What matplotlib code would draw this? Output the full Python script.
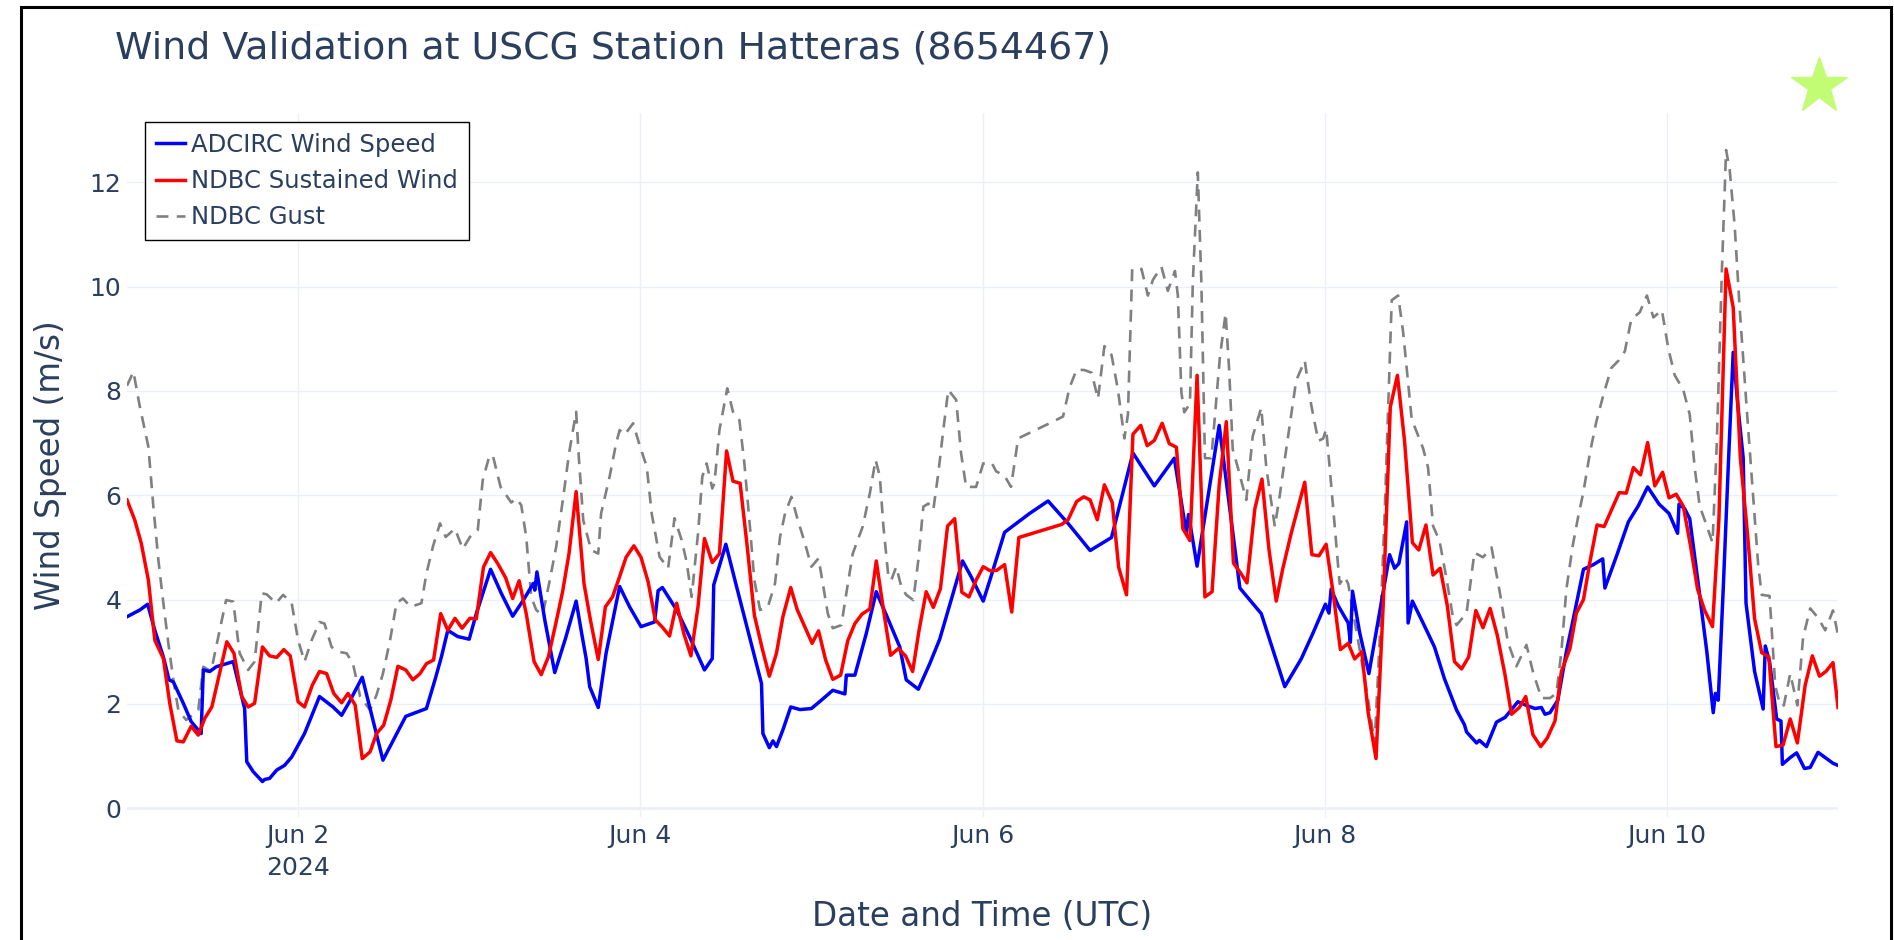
import numpy as np
import pandas as pd
import matplotlib
matplotlib.use('Agg')
import matplotlib.pyplot as plt
from matplotlib.patches import Rectangle
from matplotlib.lines import Line2D

# hours since 2024-06-01 00:00 UTC, speeds in m/s
start = pd.Timestamp('2024-06-01 00:00')

adcirc_hours = [0.0, 1.8, 2.9, 3.9, 5.1, 5.9, 6.5, 7.9, 9.0, 10.4, 10.7, 11.6, 12.5, 14.9, 16.5, 16.8, 17.7,
                19.0, 19.3, 20.0, 21.0, 22.1, 23.1, 24.9, 27.0, 28.9, 30.1, 31.2, 33.0, 35.9, 39.1, 42.0,
                43.2, 44.1, 45.0, 46.4, 48.0, 49.0, 51.0, 52.5, 54.1, 55.6, 57.0, 57.2, 57.5, 58.6, 60.0,
                61.5, 63.0, 63.7, 64.4, 64.9, 66.1, 67.2, 69.1, 70.5, 72.1, 74.0, 74.5, 75.1, 77.1, 78.9,
                81.0, 82.1, 82.3, 84.0, 85.5, 87.3, 89.0, 89.2, 90.1, 90.6, 91.1, 92.0, 93.1, 94.4, 96.0,
                97.4, 99.0, 100.7, 100.9, 102.1, 103.7, 105.1, 106.8, 108.4, 109.3, 111.0, 112.6, 114.0,
                115.6, 117.2, 118.4, 120.1, 121.1, 123.1, 126.6, 129.2, 132.0, 135.1, 138.1, 141.1, 144.1,
                146.9, 148.6, 148.9, 150.1, 153.2, 156.1, 159.1, 162.4, 164.7, 166.4, 168.1, 168.6, 168.9,
                169.9, 171.3, 171.6, 171.9, 172.9, 174.2, 175.8, 177.1, 177.8, 178.4, 179.5, 179.7, 180.3,
                181.8, 183.4, 184.8, 186.5, 187.6, 187.9, 189.3, 189.7, 190.7, 192.1, 193.3, 195.1, 196.3,
                197.5, 198.4, 198.9, 199.6, 200.7, 201.9, 202.6, 204.3, 205.7, 207.0, 207.3, 209.0, 210.6,
                212.0, 213.3, 214.9, 216.3, 217.5, 217.7, 218.5, 219.2, 220.4, 221.6, 222.5, 222.8, 223.2,
                223.9, 224.6, 225.3, 226.0, 226.7, 227.1, 228.3, 229.5, 229.8, 230.4, 231.4, 232.0, 232.2,
                233.3, 234.2, 235.3, 236.1, 237.2, 238.2, 239.3, 240.0]
adcirc_speed = [3.67, 3.80, 3.91, 3.41, 2.90, 2.46, 2.42, 2.01, 1.66, 1.43, 2.65, 2.62, 2.71, 2.81, 1.91, 0.89,
                0.70, 0.51, 0.55, 0.57, 0.73, 0.82, 0.98, 1.43, 2.14, 1.94, 1.78, 2.04, 2.51, 0.92, 1.76,
                1.91, 2.46, 2.90, 3.41, 3.29, 3.24, 3.73, 4.58, 4.12, 3.68, 3.99, 4.31, 4.18, 4.53, 3.61,
                2.60, 3.25, 3.97, 3.41, 2.87, 2.33, 1.93, 2.97, 4.25, 3.86, 3.48, 3.57, 4.17, 4.23, 3.80,
                3.29, 2.65, 2.87, 4.28, 5.06, 4.25, 3.29, 2.39, 1.43, 1.16, 1.29, 1.18, 1.50, 1.94, 1.89,
                1.91, 2.07, 2.26, 2.19, 2.55, 2.55, 3.35, 4.15, 3.61, 3.09, 2.46, 2.28, 2.77, 3.24, 3.99,
                4.74, 4.44, 3.97, 4.40, 5.29, 5.65, 5.89, 5.46, 4.94, 5.19, 6.81, 6.18, 6.71, 5.27, 5.63,
                4.64, 7.34, 4.22, 3.73, 2.33, 2.86, 3.37, 3.91, 3.74, 4.20, 3.88, 3.55, 3.18, 4.16, 3.37,
                2.58, 3.83, 4.86, 4.60, 4.69, 5.49, 3.55, 3.97, 3.55, 3.09, 2.48, 1.88, 1.60, 1.46, 1.25,
                1.30, 1.18, 1.65, 1.74, 2.04, 1.97, 1.91, 1.93, 1.80, 1.83, 2.07, 3.00, 3.45, 4.58, 4.67,
                4.78, 4.22, 4.86, 5.49, 5.80, 6.16, 5.83, 5.65, 5.27, 5.83, 5.74, 5.55, 4.30, 3.00, 1.83,
                2.20, 2.07, 4.20, 6.53, 8.74, 7.65, 6.72, 3.93, 2.62, 1.90, 3.11, 2.81, 1.71, 1.67, 0.84,
                0.97, 1.06, 0.76, 0.78, 1.07, 0.97, 0.86, 0.82]

ndbc_hours = [0.0, 1.1, 2.0, 3.0, 3.9, 5.1, 6.0, 7.0, 7.9, 9.0, 10.0, 10.9, 11.9, 14.0, 15.0, 16.1, 17.0, 17.9,
              19.0, 20.0, 21.0, 22.0, 22.9, 24.0, 24.9, 26.0, 27.0, 28.0, 29.0, 30.1, 31.0, 32.0, 33.0, 34.1,
              35.0, 36.0, 37.0, 38.0, 39.1, 40.1, 41.1, 42.0, 43.0, 44.0, 45.0, 46.0, 47.0, 48.1, 49.0, 50.0,
              51.0, 52.0, 53.1, 54.1, 55.0, 56.0, 57.1, 58.1, 59.1, 60.1, 61.1, 62.0, 63.0, 64.1, 65.0, 66.1,
              67.1, 68.1, 69.1, 70.0, 71.1, 72.1, 73.1, 74.1, 75.1, 76.1, 77.1, 78.1, 79.1, 80.1, 81.0, 82.1,
              83.1, 84.1, 85.0, 86.0, 87.0, 88.0, 89.1, 90.1, 91.1, 92.0, 93.1, 94.0, 95.1, 96.1, 97.0, 98.0,
              99.0, 100.1, 101.1, 102.1, 103.1, 104.2, 105.1, 106.1, 107.1, 108.2, 109.2, 110.2, 111.1,
              112.1, 113.1, 114.1, 115.1, 116.1, 117.1, 118.1, 119.1, 120.1, 121.1, 122.0, 123.1, 124.1,
              125.1, 131.1, 132.0, 133.2, 134.2, 135.1, 136.1, 137.1, 138.2, 139.1, 140.2, 141.1, 142.2,
              143.1, 144.1, 145.2, 146.2, 147.2, 148.1, 149.1, 150.1, 151.2, 152.2, 153.2, 154.2, 155.2,
              156.2, 157.1, 158.2, 159.2, 160.2, 161.2, 162.1, 163.3, 164.3, 165.2, 166.2, 167.2, 168.2,
              169.2, 170.2, 171.3, 172.2, 173.2, 174.1, 175.2, 176.2, 177.2, 178.2, 179.2, 180.3, 181.2,
              182.2, 183.2, 184.2, 185.2, 186.2, 187.2, 188.2, 189.2, 190.2, 191.2, 192.2, 193.3, 194.2,
              195.3, 196.2, 197.2, 198.3, 199.2, 200.3, 201.2, 202.4, 203.3, 204.3, 205.2, 206.2, 207.2,
              208.2, 209.3, 210.3, 211.3, 212.3, 213.3, 214.3, 215.4, 216.3, 217.3, 218.3, 219.3, 220.3,
              221.3, 222.4, 223.3, 224.3, 225.3, 226.3, 227.3, 228.3, 229.3, 230.3, 231.3, 232.3, 233.3,
              234.3, 235.4, 236.4, 237.4, 238.3, 239.3, 240.0]
ndbc_wind = [5.91, 5.52, 5.08, 4.37, 3.22, 2.87, 2.01, 1.29, 1.27, 1.57, 1.40, 1.72, 1.94, 3.19, 2.97, 2.14, 1.94,
             2.01, 3.09, 2.92, 2.89, 3.04, 2.92, 2.04, 1.94, 2.36, 2.62, 2.58, 2.20, 2.02, 2.20, 1.98, 0.95,
             1.08, 1.43, 1.59, 2.07, 2.72, 2.65, 2.46, 2.58, 2.77, 2.84, 3.73, 3.41, 3.64, 3.45, 3.64, 3.63,
             4.62, 4.90, 4.69, 4.42, 4.02, 4.36, 3.73, 2.81, 2.56, 2.90, 3.51, 4.15, 4.88, 6.07, 4.31, 3.61,
             2.85, 3.86, 4.05, 4.44, 4.81, 5.03, 4.81, 4.34, 3.61, 3.47, 3.30, 3.93, 3.35, 2.92, 3.87, 5.17,
             4.71, 4.88, 6.85, 6.27, 6.23, 5.01, 3.70, 3.06, 2.53, 2.97, 3.67, 4.23, 3.81, 3.47, 3.16, 3.40,
             2.84, 2.47, 2.55, 3.21, 3.54, 3.72, 3.82, 4.74, 3.81, 2.93, 3.06, 2.92, 2.62, 3.41, 4.15, 3.85,
             4.21, 5.41, 5.55, 4.14, 4.05, 4.37, 4.63, 4.55, 4.56, 4.67, 3.76, 5.19, 5.44, 5.53, 5.88, 5.97,
             5.91, 5.53, 6.20, 5.86, 4.62, 4.09, 7.17, 7.34, 6.95, 7.05, 7.38, 6.99, 6.92, 5.36, 5.13, 8.30,
             4.05, 4.15, 6.20, 7.41, 4.70, 4.51, 4.32, 5.74, 6.31, 4.94, 3.97, 4.58, 5.27, 5.79, 6.25, 4.86,
             4.84, 5.06, 4.11, 3.04, 3.16, 2.86, 3.00, 1.83, 0.95, 3.88, 7.69, 8.30, 7.04, 5.09, 4.95, 5.43,
             4.47, 4.60, 3.88, 2.81, 2.67, 2.90, 3.79, 3.46, 3.83, 3.32, 2.55, 1.80, 1.93, 2.14, 1.41, 1.18,
             1.34, 1.67, 2.62, 3.06, 3.74, 4.00, 4.72, 5.43, 5.40, 5.71, 6.05, 6.04, 6.53, 6.39, 7.01, 6.18,
             6.44, 5.95, 6.02, 5.79, 5.04, 4.20, 3.79, 3.48, 5.55, 10.34, 9.60, 6.72, 5.27, 3.63, 2.98, 2.90,
             1.18, 1.21, 1.71, 1.25, 2.36, 2.92, 2.53, 2.62, 2.79, 1.93]

gust_hours = [0.0, 0.9, 1.8, 3.0, 3.7, 4.4, 5.1, 5.8, 6.5, 7.2, 8.3, 10.0, 10.7, 11.8, 12.5, 13.9, 14.9, 15.8,
              17.0, 17.9, 18.9, 19.6, 20.9, 21.9, 23.1, 24.0, 24.9, 25.9, 27.0, 27.7, 28.7, 29.6, 30.8, 31.7,
              32.7, 34.1, 35.0, 35.9, 36.9, 37.8, 38.7, 39.8, 41.3, 42.0, 42.9, 43.9, 44.7, 46.0, 47.1, 48.1,
              49.2, 49.9, 50.8, 51.3, 52.4, 53.9, 54.6, 55.3, 56.0, 56.7, 57.4, 58.3, 59.3, 60.2, 61.2, 62.0,
              63.0, 63.4, 64.0, 65.1, 66.1, 66.5, 67.7, 68.6, 69.1, 69.8, 71.0, 71.9, 72.9, 73.6, 74.7, 75.9,
              76.8, 77.8, 78.5, 79.2, 80.1, 80.7, 81.3, 82.1, 82.4, 83.1, 84.2, 85.0, 85.9, 86.6, 87.3, 88.0,
              88.8, 89.9, 90.9, 91.6, 92.3, 93.2, 94.1, 95.1, 96.0, 97.0, 97.6, 98.3, 99.0, 100.2, 100.9,
              101.8, 103.2, 104.2, 105.0, 105.6, 106.1, 106.8, 107.2, 107.9, 108.6, 109.3, 110.3, 111.0,
              111.7, 112.4, 113.1, 113.8, 114.5, 115.2, 116.3, 117.0, 117.7, 119.1, 120.1, 121.3, 121.9,
              123.1, 124.0, 125.0, 129.4, 131.3, 132.2, 133.2, 134.3, 135.3, 136.2, 137.1, 138.1, 139.0,
              139.9, 140.4, 141.0, 142.3, 143.2, 143.9, 145.1, 146.0, 147.0, 147.4, 147.9, 148.3, 149.1,
              149.5, 150.2, 150.7, 151.2, 152.1, 153.3, 154.1, 154.6, 155.1, 155.8, 157.0, 157.9, 159.1,
              159.8, 161.0, 161.7, 162.6, 164.0, 165.2, 166.1, 167.1, 167.8, 168.2, 168.7, 169.4, 170.1,
              170.8, 171.3, 172.0, 173.2, 174.1, 175.0, 175.7, 176.4, 176.9, 177.4, 178.3, 179.0, 180.2,
              181.8, 182.5, 183.2, 184.1, 185.1, 186.0, 186.5, 187.9, 189.0, 190.2, 191.4, 192.6, 193.7,
              194.9, 196.3, 197.2, 198.4, 199.6, 200.5, 201.2, 201.9, 202.8, 203.5, 204.3, 205.2, 206.1,
              207.1, 208.2, 209.2, 210.1, 211.0, 212.2, 213.2, 214.1, 215.3, 216.2, 217.1, 218.3, 219.2,
              219.9, 220.6, 221.6, 222.4, 223.0, 223.7, 224.3, 224.8, 225.5, 226.2, 227.2, 228.1, 228.8,
              229.3, 230.4, 231.2, 231.9, 232.4, 233.3, 234.3, 235.1, 236.1, 237.2, 238.2, 239.3, 240.0]
ndbc_gust = [8.10, 8.37, 7.70, 6.93, 5.78, 4.76, 3.93, 3.16, 2.46, 1.88, 1.69, 1.88, 2.71, 2.62, 3.09, 3.99, 3.96,
             2.97, 2.65, 2.81, 4.12, 4.10, 3.93, 4.09, 3.93, 3.22, 2.81, 3.22, 3.57, 3.54, 3.09, 3.00, 2.97,
             2.77, 2.14, 1.88, 2.17, 2.58, 3.22, 3.93, 4.02, 3.86, 3.93, 4.50, 5.01, 5.46, 5.20, 5.36, 4.97,
             5.20, 5.33, 6.29, 6.74, 6.77, 6.16, 5.86, 5.94, 5.81, 5.20, 4.05, 3.80, 3.70, 4.37, 5.01, 5.97,
             6.80, 7.60, 6.68, 5.52, 4.95, 4.88, 5.65, 6.36, 6.99, 7.25, 7.16, 7.38, 6.96, 6.55, 5.65, 4.82,
             4.60, 5.56, 5.14, 4.72, 4.05, 5.27, 6.36, 6.61, 6.13, 6.23, 7.25, 8.05, 7.60, 7.44, 6.61, 5.52,
             4.37, 3.80, 3.86, 4.31, 5.20, 5.65, 5.97, 5.52, 5.08, 4.63, 4.79, 4.31, 3.73, 3.45, 3.51, 4.12,
             4.88, 5.40, 6.04, 6.68, 6.36, 5.40, 4.44, 4.37, 4.63, 4.25, 4.09, 3.99, 4.76, 5.78, 5.84, 5.72,
             6.42, 7.25, 8.02, 7.83, 6.80, 6.16, 6.16, 6.61, 6.62, 6.46, 6.37, 6.16, 7.09, 7.38, 7.51, 8.06,
             8.41, 8.40, 8.35, 7.85, 8.86, 8.69, 8.02, 7.09, 7.55, 10.34, 10.34, 9.83, 10.13, 10.38, 9.92,
             10.30, 9.83, 7.97, 7.59, 7.76, 10.08, 12.19, 10.08, 6.71, 6.71, 8.65, 9.49, 8.40, 6.88, 6.54,
             5.91, 7.13, 7.68, 6.54, 5.40, 6.00, 6.88, 8.20, 8.58, 7.74, 7.04, 7.09, 7.27, 6.53, 5.41, 4.30,
             4.44, 4.30, 3.74, 2.81, 2.07, 1.23, 3.18, 5.60, 7.65, 9.74, 9.83, 9.13, 7.46, 6.90, 6.53, 5.41,
             5.13, 4.39, 3.65, 3.51, 3.74, 4.90, 4.81, 5.00, 4.11, 3.18, 2.72, 3.13, 2.62, 2.11, 2.11, 2.20,
             3.00, 4.20, 5.04, 5.55, 6.07, 6.81, 7.41, 7.93, 8.44, 8.58, 8.76, 9.37, 9.51, 9.83, 9.41, 9.55,
             8.81, 8.30, 8.02, 7.55, 6.53, 5.79, 5.41, 5.09, 7.00, 10.25, 12.62, 12.25, 11.18, 9.60, 7.65,
             5.97, 4.67, 4.09, 4.07, 2.34, 1.97, 1.97, 2.58, 1.97, 3.27, 3.83, 3.65, 3.41, 3.79, 3.32]

tick_days = ['2024-06-02', '2024-06-04', '2024-06-06', '2024-06-08', '2024-06-10']
tick_labels = ['Jun 2\n2024', 'Jun 4', 'Jun 6', 'Jun 8', 'Jun 10']
y_ticks = [0, 2, 4, 6, 8, 10, 12]

txt = '#2a3f5f'
grid_c = '#ebf0f8'

def to_time(hours):
    return (start + pd.to_timedelta(np.array(hours), unit='h')).to_numpy()

plt.rcParams['font.family'] = ['DejaVu Sans']
plt.rcParams['lines.scale_dashes'] = False

W, H = 1894, 940
fig = plt.figure(figsize=(W / 100, H / 100), dpi=100)
ax = fig.add_axes([127 / W, 1 - 817 / H, (1838 - 127) / W, (817 - 113) / H])

ax.plot(to_time(adcirc_hours), adcirc_speed, color='#0000ff', lw=2.5, label='ADCIRC Wind Speed',
        solid_joinstyle='round', zorder=3)
ax.plot(to_time(ndbc_hours), ndbc_wind, color='#ff0000', lw=2.5, label='NDBC Sustained Wind',
        solid_joinstyle='round', zorder=4)
ax.plot(to_time(gust_hours), ndbc_gust, color='#808080', lw=1.9, dashes=(8.6, 6.0), label='NDBC Gust',
        zorder=2)

ax.set_xlim(start.to_datetime64(), (start + pd.Timedelta(days=10)).to_datetime64())
ax.set_ylim(-0.17, 13.33)
ax.set_xticks(pd.to_datetime(tick_days).to_numpy())
ax.set_xticklabels(tick_labels, linespacing=1.4)
ax.set_yticks(y_ticks)
ax.tick_params(length=0, labelsize=18, colors=txt)
ax.tick_params(axis='x', pad=5)
ax.tick_params(axis='y', pad=4)
ax.grid(True, color=grid_c, lw=1.0, zorder=0)
ax.axhline(0, color=grid_c, lw=1.8, zorder=1)
for s in ax.spines.values():
    s.set_visible(False)

ax.set_xlabel('Date and Time (UTC)', fontsize=23.5, color=txt, labelpad=15)
ax.set_ylabel('Wind Speed (m/s)', fontsize=23.5, color=txt, labelpad=16)

fig.text(115 / W, 1 - 48 / H, 'Wind Validation at USCG Station Hatteras (8654467)', fontsize=27.3,
         color=txt, va='center', ha='left')

leg = ax.legend(loc='upper left', bbox_to_anchor=(145 / W, 1 - 122 / H), bbox_transform=fig.transFigure,
                fontsize=17.5, frameon=True, fancybox=False, edgecolor='black', framealpha=1,
                borderaxespad=0, borderpad=0.45, handlelength=1.2, handletextpad=0.25, labelspacing=0.5)
leg.get_frame().set_linewidth(1.0)
for t in leg.get_texts():
    t.set_color(txt)

# outer black frame of the screenshot and the star marker
fig.add_artist(Rectangle((20.5 / W, -0.05), (1891 - 20.5) / W, 1.05 - 6.5 / H, transform=fig.transFigure,
                         fill=False, ec='black', lw=2.2))
fig.add_artist(Line2D([1819 / W], [1 - 86 / H], marker='*', ms=42, color='#c2fb74', mec='#c2fb74',
                      ls='none', transform=fig.transFigure))

fig.savefig('out.png', dpi=100, facecolor='white')
